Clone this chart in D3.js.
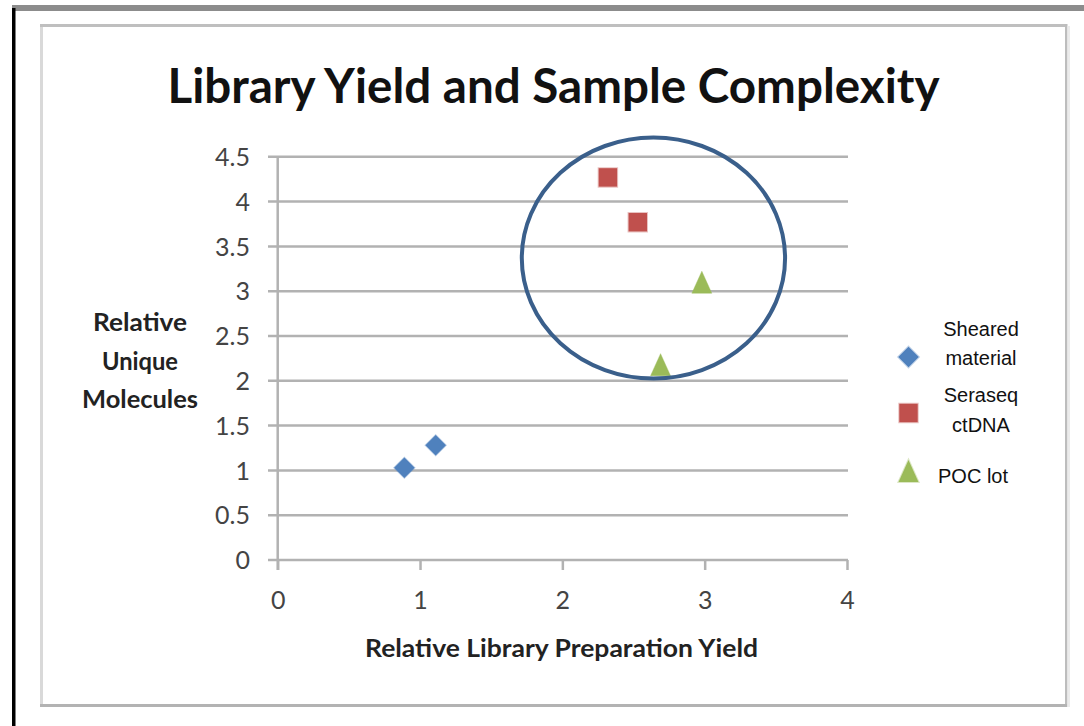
<!DOCTYPE html>
<html>
<head>
<meta charset="utf-8">
<script src="https://cdn.jsdelivr.net/npm/d3@7"></script>
<style>
  html, body { margin: 0; padding: 0; background: #fff; }
  svg { display: block; }
</style>
</head>
<body>
<svg id="chart" width="1084" height="726"></svg>
<script>
// ---- data ----
const seriesNames = ["Sheared material", "Seraseq ctDNA", "POC lot"];
const shearedX = [0.89, 1.11];
const shearedY = [1.03, 1.28];
const seraseqX = [2.32, 2.53];
const seraseqY = [4.27, 3.77];
const pocX = [2.98, 2.69];
const pocY = [3.10, 2.18];
const xTicks = [0, 1, 2, 3, 4];
const yTicks = [0, 0.5, 1, 1.5, 2, 2.5, 3, 3.5, 4, 4.5];
const highlight = { cx: 2.64, cy: 3.37, rx: 0.925, ry: 1.345 };

const colors = ["#4f81bd", "#c0504d", "#9bbb59"];

const svg = d3.select("#chart");

// ---- frames ----
svg.append("rect").attr("x", 12).attr("y", 5).attr("width", 1072).attr("height", 6).attr("fill", "#8c8c8c");
svg.append("rect").attr("x", 12).attr("y", 8).attr("width", 3.5).attr("height", 718).attr("fill", "#000");
// inner chart box
svg.append("rect").attr("x", 40).attr("y", 24).attr("width", 3).attr("height", 683).attr("fill", "#d9d9d9");
svg.append("rect").attr("x", 40).attr("y", 24).attr("width", 1027).attr("height", 3).attr("fill", "#bfbfbf");
svg.append("rect").attr("x", 1065).attr("y", 24).attr("width", 2.5).attr("height", 683).attr("fill", "#bdbdbd");
svg.append("rect").attr("x", 1067.5).attr("y", 26).attr("width", 2.5).attr("height", 681).attr("fill", "#ebebeb");
svg.append("rect").attr("x", 40).attr("y", 704).attr("width", 1027).attr("height", 3).attr("fill", "#b3b3b3");

// ---- scales ----
const x = d3.scaleLinear().domain([0, 4]).range([277.7, 847]);
const y = d3.scaleLinear().domain([0, 4.5]).range([560, 156.8]);

function fitWidth(sel, w) {
  sel.attr("textLength", w).attr("lengthAdjust", "spacingAndGlyphs");
}

// ---- title ----
svg.append("text")
  .attr("x", 553.5).attr("y", 103)
  .attr("text-anchor", "middle")
  .attr("font-family", "Lato, 'Open Sans', sans-serif")
  .attr("font-weight", "bold")
  .attr("font-size", 48)
  .attr("fill", "#111")
  .text("Library Yield and Sample Complexity")
  .call(fitWidth, 772);

// ---- gridlines (y) ----
const grid = svg.append("g");
grid.selectAll("line").data(yTicks).join("line")
  .attr("x1", 268).attr("x2", x(4) + 1)
  .attr("y1", d => y(d)).attr("y2", d => y(d))
  .attr("stroke", "#b2b2b2").attr("stroke-width", 2.5);

// y axis line
svg.append("line")
  .attr("x1", x(0)).attr("x2", x(0))
  .attr("y1", y(4.5)).attr("y2", y(0) + 10)
  .attr("stroke", "#b2b2b2").attr("stroke-width", 2.5);

// x axis ticks (downward from the zero line)
const xAxis = d3.axisBottom(x).tickValues(xTicks).tickSize(10).tickFormat(d3.format("d"));
const gx = svg.append("g").attr("transform", `translate(0,${y(0)})`).call(xAxis);
gx.select(".domain").remove();
gx.selectAll(".tick line").attr("stroke", "#b2b2b2").attr("stroke-width", 2.5);
gx.selectAll(".tick text")
  .attr("y", 0).attr("dy", null)
  .attr("transform", "translate(0,49)")
  .attr("font-family", "Lato, sans-serif")
  .attr("font-size", 25)
  .attr("fill", "#444");

// y axis labels
const yAxis = d3.axisLeft(y).tickValues(yTicks).tickSize(0).tickPadding(0).tickFormat(d => String(d));
const gy = svg.append("g").attr("transform", `translate(250,0)`).call(yAxis);
gy.select(".domain").remove();
gy.selectAll(".tick text")
  .attr("x", 0).attr("dy", "0.35em")
  .attr("font-family", "Lato, sans-serif")
  .attr("font-size", 25)
  .attr("fill", "#444");

// ---- axis titles ----
const yTitle = ["Relative", "Unique", "Molecules"];
const yTitleW = [94, 76, 116];
const yTitleBase = [331, 370, 408];
yTitle.forEach((t, i) => {
  svg.append("text")
    .attr("x", 140).attr("y", yTitleBase[i])
    .attr("text-anchor", "middle")
    .attr("font-family", "Lato, sans-serif")
    .attr("font-weight", "bold")
    .attr("font-size", 25)
    .attr("fill", "#222")
    .text(t)
    .call(fitWidth, yTitleW[i]);
});
svg.append("text")
  .attr("x", 561.5).attr("y", 657)
  .attr("text-anchor", "middle")
  .attr("font-family", "Lato, sans-serif")
  .attr("font-weight", "bold")
  .attr("font-size", 25)
  .attr("fill", "#222")
  .text("Relative Library Preparation Yield")
  .call(fitWidth, 393);

// ---- marker shapes ----
const diamond = d3.symbol().type(d3.symbolSquare).size(210);
const square = d3.symbol().type(d3.symbolSquare).size(340);
const triangle = {
  draw(ctx, size) {
    const h = Math.sqrt(size) * 1.05, w = Math.sqrt(size) * 0.95;
    ctx.moveTo(0, -h / 2);
    ctx.lineTo(w / 2, h / 2);
    ctx.lineTo(-w / 2, h / 2);
    ctx.closePath();
  }
};
const tri = d3.symbol().type(triangle).size(440);

function pts(xs, ys) { return xs.map((v, i) => ({ x: v, y: ys[i] })); }

const marks = svg.append("g");
marks.selectAll(".sheared").data(pts(shearedX, shearedY)).join("path")
  .attr("class", "sheared")
  .attr("d", diamond)
  .attr("transform", d => `translate(${x(d.x)},${y(d.y)}) rotate(45)`)
  .attr("fill", colors[0]).attr("stroke", colors[0]).attr("stroke-opacity", 0.4).attr("stroke-width", 1.5);
marks.selectAll(".seraseq").data(pts(seraseqX, seraseqY)).join("path")
  .attr("class", "seraseq")
  .attr("d", square)
  .attr("transform", d => `translate(${x(d.x)},${y(d.y)})`)
  .attr("fill", colors[1]).attr("stroke", colors[1]).attr("stroke-opacity", 0.35).attr("stroke-width", 2);
marks.selectAll(".poc").data(pts(pocX, pocY)).join("path")
  .attr("class", "poc")
  .attr("d", tri)
  .attr("transform", d => `translate(${x(d.x)},${y(d.y)})`)
  .attr("fill", colors[2]).attr("stroke", colors[2]).attr("stroke-opacity", 0.4).attr("stroke-width", 1);

// ---- highlight ellipse ----
svg.append("ellipse")
  .attr("cx", x(highlight.cx)).attr("cy", y(highlight.cy))
  .attr("rx", x(highlight.rx) - x(0)).attr("ry", y(0) - y(highlight.ry))
  .attr("fill", "none")
  .attr("stroke", "#3a5f8b")
  .attr("stroke-width", 4);

// ---- legend ----
const legendItems = [
  { lines: ["Sheared", "material"], base: [336, 365], sym: diamond, rot: 45, sy: 357, color: colors[0] },
  { lines: ["Seraseq", "ctDNA"], base: [401.5, 431.5], sym: square, rot: 0, sy: 413, color: colors[1] },
  { lines: ["POC lot"], base: [483], sym: tri, rot: 0, sy: 471, color: colors[2] }
];
const lg = svg.append("g");
legendItems.forEach((it, i) => {
  lg.append("path")
    .attr("d", it.sym)
    .attr("transform", `translate(908.5,${it.sy}) rotate(${it.rot})`)
    .attr("fill", it.color)
    .attr("stroke", it.color).attr("stroke-opacity", 0.35).attr("stroke-width", 2);
  it.lines.forEach((t, j) => {
    lg.append("text")
      .attr("x", i === 2 ? 973 : 981).attr("y", it.base[j])
      .attr("text-anchor", "middle")
      .attr("font-family", "'Liberation Sans', Arial, sans-serif")
      .attr("font-size", 20)
      .attr("fill", "#111")
      .text(t);
  });
});
</script>
</body>
</html>
